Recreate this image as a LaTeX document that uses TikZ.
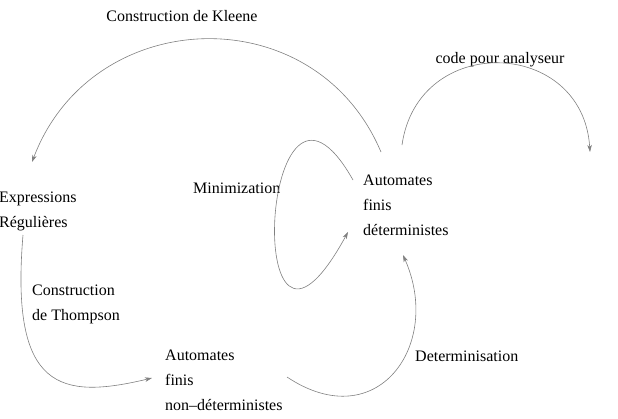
\documentclass[tikz,border=0pt]{standalone}
\usepackage{fontspec}
\setmainfont{Liberation Serif}
\usetikzlibrary{arrows.meta}
\tikzset{
    etiquette/.style ={
        inner sep=0pt,
        align=left,
        font=\fontsize{16}{25}\selectfont
    },
    fleche/.style ={
        draw=gray,
        line width=0.6pt,
        -{Stealth[length=7pt,width=4.5pt,inset=2pt]}
    }
}

\begin{document}
\begin{tikzpicture}[x=1pt,y=-1pt]
    \useasboundingbox (0,0) rectangle (618,418);
    \node[etiquette,anchor=base] (kleene) at (182,21) {Construction de Kleene};
    \node[etiquette,anchor=base] (code) at (500,63) {code pour analyseur};
    \node[etiquette,anchor=north west] (er) at (-1,192) {Expressions\\Régulières};
    \node[etiquette,anchor=base west] (minim) at (193,193) {Minimization};
    \node[etiquette,anchor=north west] (afd) at (363,175) {Automates\\finis\\déterministes};
    \node[etiquette,anchor=north west] (thompson) at (32,285) {Construction\\de Thompson};
    \node[etiquette,anchor=north west] (afn) at (165,350) {Automates\\finis\\non--déterministes};
    \node[etiquette,anchor=base west] (determ) at (415,361) {Determinisation};
    \coordinate (sortie) at (590,152);
    % fleches
    \draw[fleche] ([shift={(18,-23)}]afd.north west) .. controls +(-66,-156) and +(60,-158) .. ([shift={(33,-30)}]er.north west);
    \draw[fleche] ([shift={(39,-30)}]afd.north west) .. controls +(16,-113) and +(-7,-114) .. (sortie);
    \draw[fleche] ([shift={(-10,5)}]afd.north west) .. controls +(-93,-165) and +(-108,198) .. ([shift={(-15,57)}]afd.north west);
    \draw[fleche] ([shift={(24,43)}]er.north west) .. controls +(-13,155) and +(-92,22) .. ([shift={(-13,28)}]afn.north west);
    \draw[fleche] ([shift={(122,27)}]afn.north west) .. controls +(90,60) and +(40,90) .. ([shift={(40,80)}]afd.north west);
\end{tikzpicture}
\end{document}
